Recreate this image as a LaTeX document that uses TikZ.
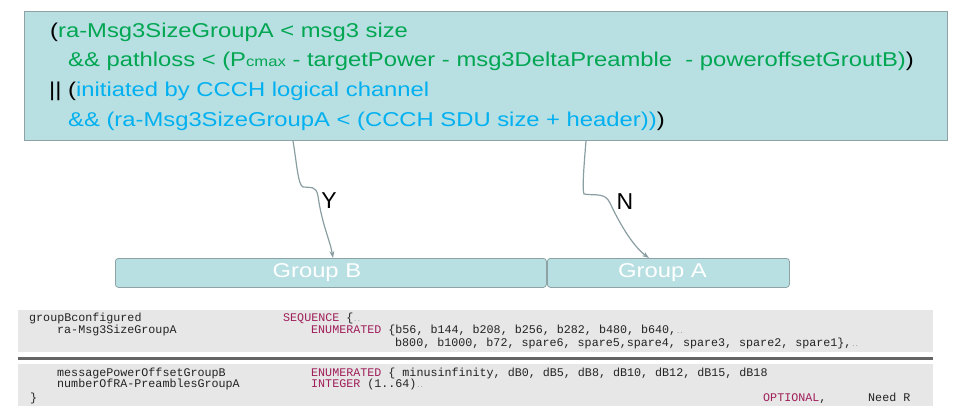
\documentclass[tikz,border=0pt]{standalone}
\usepackage{fontspec}
\setmainfont{Liberation Sans}
\setmonofont{Liberation Mono}
\newfontfamily\widefont[FakeStretch=1.19]{Liberation Sans}
\usetikzlibrary{arrows.meta}
\definecolor{boxfill}{RGB}{184,223,226}
\definecolor{boxline}{RGB}{140,162,165}
\definecolor{arrowgray}{RGB}{138,158,161}
\definecolor{condgreen}{RGB}{0,166,81}
\definecolor{condblue}{RGB}{0,176,240}
\definecolor{codebg}{RGB}{231,231,231}
\definecolor{sepgray}{RGB}{100,100,100}
\definecolor{codekw}{RGB}{160,30,90}
\definecolor{codetext}{RGB}{35,35,35}
\newcommand\kw[1]{\textcolor{codekw}{#1}}
\newcommand\eol{{\color{gray}\fontsize{6}{6}\selectfont ..}}
\begin{document}
\begin{tikzpicture}[x=1pt,y=-1pt,
    condbox/.style={draw=boxline, fill=boxfill, line width=1pt, anchor=north west, inner sep=0pt},
    groupbox/.style={draw=boxline, fill=boxfill, line width=0.8pt, rounded corners=3pt, anchor=north west,
      inner sep=0pt, minimum height=29pt},
    grouptext/.style={inner sep=0pt, text=white, font=\widefont\fontsize{20}{20}\selectfont},
    condline/.style={anchor=base west, inner sep=0pt, font=\widefont\fontsize{20}{24}\selectfont},
    codeline/.style={anchor=base west, inner sep=0pt, text=codetext, font=\ttfamily\fontsize{11.7}{12}\selectfont},
    flow/.style={draw=arrowgray, line width=1.2pt, -{Stealth[length=7pt,width=5pt]}},
    yn/.style={inner sep=0pt, font=\fontsize{23}{23}\selectfont}]
    \useasboundingbox (0,0) rectangle (957,415);
    \node[condbox, minimum width=923pt, minimum height=129pt] (cond) at (24,11) {};
    \node[condline] (l1) at (50,37) {(\textcolor{condgreen}{ra-Msg3SizeGroupA < msg3 size}};
    \node[condline, text=condgreen] (l2) at (68,66) {\&\& pathloss < (P{\fontsize{14}{14}\selectfont cmax} - targetPower - msg3DeltaPreamble\ \ - poweroffsetGroutB)\textcolor{black}{)}};
    \node[condline] (l3) at (49,96) {|| (\textcolor{condblue}{initiated by CCCH logical channel}};
    \node[condline, text=condblue] (l4) at (68,126) {\&\& (ra-Msg3SizeGroupA < (CCCH SDU size + header))\textcolor{black}{)}};
    \node[groupbox, minimum width=431pt] (grpB) at (115,258) {};
    \node[groupbox, minimum width=242pt] (grpA) at (547,258) {};
    \node[grouptext] (grpBtext) at ([xshift=-14pt]grpB.center) {Group B};
    \node[grouptext] (grpAtext) at ([xshift=-6pt]grpA.center) {Group A};
    \coordinate (ys) at ([xshift=269pt]cond.south west);
    \coordinate (ye) at ([xshift=218pt]grpB.north west);
    \coordinate (ns) at ([xshift=562pt]cond.south west);
    \coordinate (ne) at ([xshift=102pt]grpA.north west);
    \draw[flow] (ys) .. controls (297,165) and (298,185) .. (303,187) .. controls (310,188) and (316,185) .. (318,196) .. controls (322,225) and (330,240) .. (ye);
    \draw[flow] (ns) .. controls (584,165) and (582,190) .. (584,194) .. controls (595,196) and (605,192) .. (610,203) .. controls (625,235) and (638,250) .. (ne);
    \node[yn] (yes) at (329,201) {Y};
    \node[yn] (no) at (625,202) {N};
    \fill[codebg] (18,310) rectangle (933,352);
    \draw[sepgray, line width=2.5pt] (18,358.5) -- (933,358.5);
    \fill[codebg] (18,364) rectangle (933,406);
    \node[codeline] (c1) at (29,321) {groupBconfigured};
    \node[codeline] (c2) at (283,321) {\kw{SEQUENCE} \{\eol};
    \node[codeline] (c3) at (57,333) {ra-Msg3SizeGroupA};
    \node[codeline] (c4) at (311,333) {\kw{ENUMERATED} \{b56, b144, b208, b256, b282, b480, b640,\eol};
    \node[codeline] (c5) at (395,346) {b800, b1000, b72, spare6, spare5,spare4, spare3, spare2, spare1\},\eol};
    \node[codeline] (c6) at (57,376) {messagePowerOffsetGroupB};
    \node[codeline] (c7) at (311,376) {\kw{ENUMERATED} \{ minusinfinity, dB0, dB5, dB8, dB10, dB12, dB15, dB18};
    \node[codeline] (c8) at (57,387) {numberOfRA-PreamblesGroupA};
    \node[codeline] (c9) at (311,387) {\kw{INTEGER} (1..64)\eol};
    \node[codeline] (c10) at (30,401) {\}};
    \node[codeline] (c11) at (763,401) {\kw{OPTIONAL},};
    \node[codeline] (c12) at (868,401) {Need R};
\end{tikzpicture}
\end{document}
